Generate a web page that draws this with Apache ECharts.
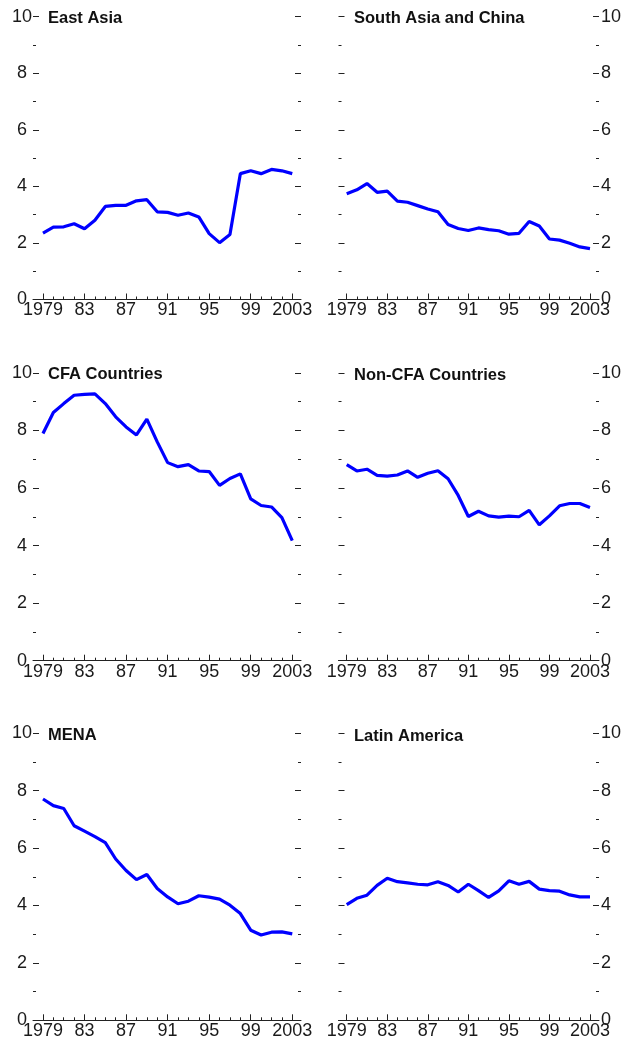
<!DOCTYPE html>
<html>
<head>
<meta charset="utf-8">
<script src="https://cdn.jsdelivr.net/npm/echarts@6/dist/echarts.min.js"></script>
<style>
html,body{margin:0;padding:0;background:#fff;}
#c{width:625px;height:1047px;}
</style>
</head>
<body>
<div id="c"></div>
<script>
const years = [1979,1980,1981,1982,1983,1984,1985,1986,1987,1988,1989,1990,1991,1992,1993,1994,1995,1996,1997,1998,1999,2000,2001,2002,2003];
const labeledYears = [1979,1983,1987,1991,1995,1999,2003];

const titles = ["East Asia","South Asia and China","CFA Countries","Non-CFA Countries","MENA","Latin America"];

const eastAsia = [2.35,2.56,2.57,2.68,2.50,2.80,3.29,3.33,3.33,3.49,3.53,3.10,3.08,2.98,3.06,2.92,2.33,2.01,2.30,4.45,4.55,4.45,4.60,4.55,4.45];
const southAsiaChina = [3.74,3.88,4.10,3.79,3.83,3.48,3.44,3.32,3.20,3.10,2.65,2.51,2.44,2.53,2.47,2.43,2.31,2.34,2.76,2.60,2.14,2.10,1.99,1.86,1.80];
const cfa = [7.89,8.62,8.93,9.22,9.25,9.27,8.93,8.47,8.12,7.84,8.39,7.60,6.88,6.74,6.81,6.59,6.57,6.09,6.33,6.49,5.62,5.39,5.34,4.97,4.17];
const nonCfa = [6.81,6.59,6.65,6.44,6.41,6.45,6.59,6.37,6.51,6.60,6.32,5.74,5.01,5.19,5.03,4.99,5.02,5.00,5.22,4.72,5.03,5.38,5.46,5.46,5.32];
const mena = [7.71,7.48,7.38,6.78,6.59,6.40,6.19,5.62,5.22,4.90,5.08,4.59,4.30,4.06,4.15,4.34,4.29,4.22,4.01,3.72,3.14,2.97,3.07,3.08,3.01];
const latinAmerica = [4.03,4.25,4.36,4.70,4.95,4.83,4.79,4.74,4.72,4.83,4.70,4.47,4.74,4.52,4.28,4.51,4.86,4.74,4.84,4.57,4.52,4.50,4.37,4.30,4.30];

const seriesData = [eastAsia, southAsiaChina, cfa, nonCfa, mena, latinAmerica];

const FONT = '"Liberation Sans",Arial,sans-serif';
const LABEL_SIZE = 18;
const TITLE_SIZE = 16.5;
const TICK_COLOR = '#222';
const LABEL_COLOR = '#1a1a1a';

const rowsTop = [16.7, 372.8, 733.3];
const rowsH = [282.8, 287.9, 287.0];
const colLeft = [33, 338.5];
const colW = [268, 260.5];
const colXMin = [1978.04, 1978.19];
const colXMax = [2003.84, 2003.89];

const grid = [], xAxis = [], yAxis = [], series = [], graphic = [];
for (let i = 0; i < 6; i++) {
  const r = Math.floor(i / 2), c = i % 2;
  grid.push({left: colLeft[c], top: rowsTop[r], width: colW[c], height: rowsH[r], containLabel: false});
  xAxis.push({
    type: 'value', gridIndex: i, min: colXMin[c], max: colXMax[c], position: 'bottom',
    axisLine: {show: true, onZero: false, lineStyle: {color: TICK_COLOR, width: 1}},
    axisTick: {show: true, inside: true, length: 6, customValues: labeledYears, lineStyle: {color: TICK_COLOR, width: 1}},
    axisLabel: {show: true, customValues: labeledYears, margin: 2, color: LABEL_COLOR, fontFamily: FONT, fontSize: LABEL_SIZE,
      formatter: v => (v === 1979 || v === 2003) ? String(v) : String(v).slice(2)},
    splitLine: {show: false}
  });
  xAxis.push({
    type: 'value', gridIndex: i, min: colXMin[c], max: colXMax[c], position: 'bottom',
    axisLine: {show: false, onZero: false},
    axisTick: {show: true, inside: true, length: 3, customValues: years, lineStyle: {color: TICK_COLOR, width: 1}},
    axisLabel: {show: false},
    splitLine: {show: false}
  });
  const labelSide = c === 0 ? 'left' : 'right';
  const otherSide = c === 0 ? 'right' : 'left';
  yAxis.push({
    type: 'value', gridIndex: i, min: 0, max: 10, interval: 2, position: labelSide,
    axisLine: {show: false},
    axisTick: {show: true, inside: true, length: 6, lineStyle: {color: TICK_COLOR, width: 1}},
    minorTick: {show: true, splitNumber: 2, length: 3, lineStyle: {color: TICK_COLOR, width: 1}},
    axisLabel: c === 0
      ? {show: true, margin: 11, align: 'center', color: LABEL_COLOR, fontFamily: FONT, fontSize: LABEL_SIZE}
      : {show: true, margin: 2, align: 'left', color: LABEL_COLOR, fontFamily: FONT, fontSize: LABEL_SIZE},
    splitLine: {show: false}
  });
  yAxis.push({
    type: 'value', gridIndex: i, min: 0, max: 10, interval: 2, position: otherSide,
    axisLine: {show: false},
    axisTick: {show: true, inside: true, length: 6, lineStyle: {color: TICK_COLOR, width: 1}},
    minorTick: {show: true, splitNumber: 2, length: 3, lineStyle: {color: TICK_COLOR, width: 1}},
    axisLabel: {show: false},
    splitLine: {show: false}
  });
  series.push({
    type: 'line', xAxisIndex: i * 2, yAxisIndex: i * 2,
    data: years.map((y, k) => [y, seriesData[i][k]]),
    showSymbol: false, symbol: 'none',
    lineStyle: {color: '#0000ff', width: 3.2},
    itemStyle: {color: '#0000ff'},
    animation: false
  });
  graphic.push({
    type: 'text', x: c === 0 ? 48 : 354, y: rowsTop[r] + (r === 0 ? 1.8 : (c === 0 ? 1.8 : 3)),
    style: {text: titles[i], font: 'bold ' + TITLE_SIZE + 'px ' + FONT, fill: '#111', verticalAlign: 'middle', align: 'left'}
  });
}

const chart = echarts.init(document.getElementById('c'), null, {renderer: 'canvas'});
chart.setOption({animation: false, backgroundColor: '#fff', grid, xAxis, yAxis, series, graphic});
</script>
</body>
</html>
